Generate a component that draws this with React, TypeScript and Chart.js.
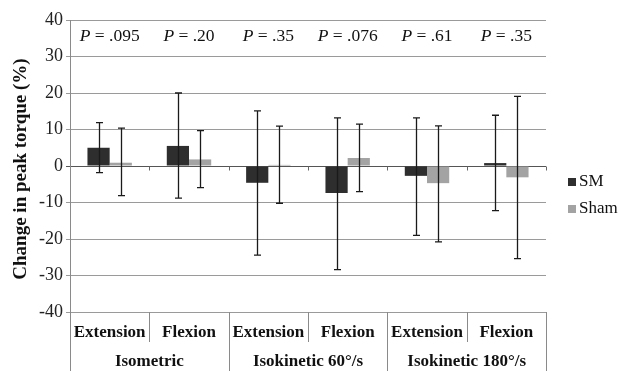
import React, { useEffect, useRef } from 'react';
import { Chart, registerables } from 'chart.js';

Chart.register(...registerables);

const subCategories = ['Extension', 'Flexion', 'Extension', 'Flexion', 'Extension', 'Flexion'];
const groupLabels = ['Isometric', 'Isokinetic 60°/s', 'Isokinetic 180°/s'];
const seriesNames = ['SM', 'Sham'];
const smValues = [5.0, 5.5, -4.6, -7.4, -2.7, 0.8];
const smErrLow = [-1.8, -8.8, -24.4, -28.4, -19.0, -12.2];
const smErrHigh = [11.9, 20.0, 15.1, 13.2, 13.2, 13.9];
const shamValues = [0.9, 1.8, 0.3, 2.2, -4.7, -3.1];
const shamErrLow = [-8.1, -5.9, -10.2, -7.0, -20.8, -25.4];
const shamErrHigh = [10.4, 9.7, 10.9, 11.5, 11.0, 19.1];
const pValues = ['.095', '.20', '.35', '.076', '.61', '.35'];
const pLabelLevel = 35.5;
const yMin = -40;
const yMax = 40;
const yStep = 10;
const yTitle = 'Change in peak torque (%)';

const SERIF = '"Liberation Serif", "Times New Roman", serif';
const SM_COLOR = '#2e2e2e';
const SHAM_COLOR = '#a3a3a3';

const errorBarPlugin = {
  id: 'errorBars',
  afterDatasetsDraw(chart: any) {
    const ctx = chart.ctx;
    const y = chart.scales.y;
    ctx.save();
    ctx.strokeStyle = '#1a1a1a';
    ctx.lineWidth = 1.3;
    chart.data.datasets.forEach((ds: any, di: number) => {
      const meta = chart.getDatasetMeta(di);
      meta.data.forEach((bar: any, i: number) => {
        const x = Math.round(bar.x) + 0.5;
        const yl = y.getPixelForValue(ds.errLow[i]);
        const yh = y.getPixelForValue(ds.errHigh[i]);
        ctx.beginPath();
        ctx.moveTo(x, yl);
        ctx.lineTo(x, yh);
        ctx.moveTo(x - 3.5, yl);
        ctx.lineTo(x + 3.5, yl);
        ctx.moveTo(x - 3.5, yh);
        ctx.lineTo(x + 3.5, yh);
        ctx.stroke();
      });
    });
    ctx.restore();
  },
};

const decorPlugin = {
  id: 'decor',
  afterDraw(chart: any) {
    const ctx = chart.ctx;
    const area = chart.chartArea;
    const x = chart.scales.x;
    const y = chart.scales.y;
    const n = subCategories.length;
    const w = (area.right - area.left) / n;
    const bottom = chart.height;
    ctx.save();

    // axis line extension & table lines
    ctx.strokeStyle = '#8a8a8a';
    ctx.lineWidth = 1;
    ctx.beginPath();
    const lx = Math.round(area.left) + 0.5;
    ctx.moveTo(lx, area.bottom);
    ctx.lineTo(lx, bottom);
    for (let i = 1; i <= n; i++) {
      const bx = Math.round(area.left + i * w) + 0.5;
      ctx.moveTo(bx, area.bottom);
      ctx.lineTo(bx, i % 2 === 0 ? bottom : area.bottom + 30);
    }
    ctx.stroke();

    // ticks on zero line
    const y0 = Math.round(y.getPixelForValue(0)) + 0.5;
    ctx.strokeStyle = '#666';
    ctx.beginPath();
    for (let i = 1; i <= n; i++) {
      const bx = Math.round(area.left + i * w) + 0.5;
      ctx.moveTo(bx, y0);
      ctx.lineTo(bx, y0 + 4);
    }
    ctx.stroke();

    // category labels
    ctx.fillStyle = '#111';
    ctx.textAlign = 'center';
    ctx.textBaseline = 'middle';
    ctx.font = `bold 17px ${SERIF}`;
    subCategories.forEach((lab, i) => {
      ctx.fillText(lab, x.getPixelForValue(i), area.bottom + 21);
    });
    groupLabels.forEach((lab, g) => {
      const cx = (x.getPixelForValue(g * 2) + x.getPixelForValue(g * 2 + 1)) / 2;
      ctx.fillText(lab, cx, area.bottom + 50);
    });

    // P labels
    const PF = 17.5;
    const py = y.getPixelForValue(pLabelLevel);
    pValues.forEach((p, i) => {
      const cx = x.getPixelForValue(i);
      ctx.font = `italic ${PF}px ${SERIF}`;
      const w1 = ctx.measureText('P').width;
      ctx.font = `${PF}px ${SERIF}`;
      const rest = ' = ' + p;
      const w2 = ctx.measureText(rest).width;
      const start = cx - (w1 + w2) / 2;
      ctx.textAlign = 'left';
      ctx.font = `italic ${PF}px ${SERIF}`;
      ctx.fillText('P', start, py);
      ctx.font = `${PF}px ${SERIF}`;
      ctx.fillText(rest, start + w1, py);
    });

    // legend
    const legendX = area.right + 22;
    const legendY = [area.top + 162, area.top + 189];
    chart.data.datasets.forEach((ds: any, i: number) => {
      ctx.fillStyle = ds.backgroundColor;
      ctx.fillRect(legendX, legendY[i] - 4, 8, 8);
      ctx.fillStyle = '#111';
      ctx.font = `17px ${SERIF}`;
      ctx.textAlign = 'left';
      ctx.fillText(ds.label, legendX + 11, legendY[i]);
    });

    // y title
    ctx.translate(21, (area.top + area.bottom) / 2 + 3);
    ctx.rotate(-Math.PI / 2);
    ctx.textAlign = 'center';
    ctx.font = `bold 19px ${SERIF}`;
    ctx.fillStyle = '#111';
    ctx.fillText(yTitle, 0, 0);
    ctx.restore();
  },
};

export default function App() {
  const ref = useRef<HTMLCanvasElement>(null);
  useEffect(() => {
    if (!ref.current) return;
    const chart = new Chart(ref.current, {
      type: 'bar',
      data: {
        labels: subCategories,
        datasets: [
          {
            label: seriesNames[0],
            data: smValues,
            backgroundColor: SM_COLOR,
            errLow: smErrLow,
            errHigh: smErrHigh,
          } as any,
          {
            label: seriesNames[1],
            data: shamValues,
            backgroundColor: SHAM_COLOR,
            errLow: shamErrLow,
            errHigh: shamErrHigh,
          } as any,
        ],
      },
      options: {
        responsive: false,
        animation: false,
        layout: { padding: { left: 0, right: 73, top: 20, bottom: 59 } },
        datasets: { bar: { categoryPercentage: 0.56, barPercentage: 1 } },
        plugins: { legend: { display: false }, tooltip: { enabled: false } },
        scales: {
          x: { display: false },
          y: {
            min: yMin,
            max: yMax,
            afterFit: (s: any) => {
              s.width = 70;
            },
            ticks: {
              stepSize: yStep,
              color: '#222',
              font: { family: SERIF, size: 18 },
              padding: 3,
            },
            border: { display: true, color: '#8a8a8a' },
            grid: {
              color: (c: any) => (c.tick && c.tick.value === 0 ? '#555' : '#9a9a9a'),
              tickLength: 4,
            },
          },
        },
      },
      plugins: [errorBarPlugin, decorPlugin],
    } as any);
    return () => chart.destroy();
  }, []);
  return (
    <div style={{ position: 'absolute', left: 0, top: 0, width: 619, height: 371, background: '#fff' }}>
      <canvas ref={ref} width={619} height={371} />
    </div>
  );
}
